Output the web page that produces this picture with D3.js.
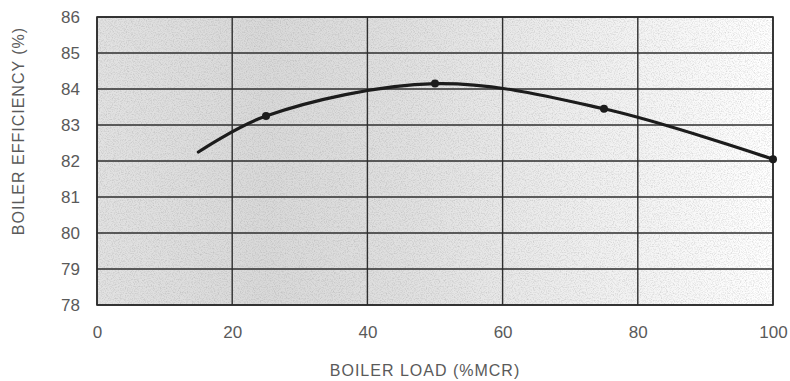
<!DOCTYPE html>
<html>
<head>
<meta charset="utf-8">
<script src="https://cdn.jsdelivr.net/npm/d3@7"></script>
<style>
  body { margin: 0; background: #fff; }
  svg { display: block; }
  text { font-family: "Liberation Sans", Arial, sans-serif; fill: #5a5a5a; }
</style>
</head>
<body>
<svg id="chart"></svg>
<script>
var WIDTH = 790;
var HEIGHT = 381;

// curve
var loadPct = [15, 25, 50, 75, 100];
var efficiency = [82.25, 83.25, 84.15, 83.45, 82.05];
// points that carry a marker
var markerLoad = [25, 50, 75, 100];
var markerEff = [83.25, 84.15, 83.45, 82.05];

var xTicks = [0, 20, 40, 60, 80, 100];
var yTicks = [78, 79, 80, 81, 82, 83, 84, 85, 86];

var margin = { left: 97, right: 17, top: 17, bottom: 76 };
var plotW = WIDTH - margin.left - margin.right;
var plotH = HEIGHT - margin.top - margin.bottom;

var svg = d3.select('#chart')
    .attr('width', WIDTH)
    .attr('height', HEIGHT);

var defs = svg.append('defs');
var grad = defs.append('linearGradient')
    .attr('id', 'bg')
    .attr('x1', '0').attr('x2', '1').attr('y1', '0').attr('y2', '0');
[[0, '#e2e2e2'], [0.25, '#d9d9d9'], [0.45, '#e0e0e0'], [0.7, '#eeeeee'], [1, '#ffffff']]
    .forEach(function(s){
        grad.append('stop').attr('offset', s[0]).attr('stop-color', s[1]);
    });

// scanner grain
var noise = defs.append('filter').attr('id', 'speckle')
    .attr('x', 0).attr('y', 0).attr('width', '100%').attr('height', '100%');
noise.append('feTurbulence')
    .attr('type', 'fractalNoise').attr('baseFrequency', 0.85)
    .attr('numOctaves', 2).attr('seed', 7).attr('result', 'n');
noise.append('feColorMatrix')
    .attr('in', 'n').attr('type', 'matrix')
    .attr('values', '0 0 0 0 0.2  0 0 0 0 0.2  0 0 0 0 0.2  2.2 0 0 0 -0.95');

var xScale = d3.scaleLinear().domain([0, 100]).range([0, plotW]);
var yScale = d3.scaleLinear().domain([78, 86]).range([plotH, 0]);

var g = svg.append('g')
    .attr('transform', 'translate(' + margin.left + ',' + margin.top + ')');

g.append('rect')
    .attr('width', plotW).attr('height', plotH)
    .attr('fill', 'url(#bg)');
g.append('rect')
    .attr('width', plotW).attr('height', plotH)
    .attr('filter', 'url(#speckle)')
    .attr('opacity', 0.28);

// grid
g.append('g')
    .selectAll('line')
    .data(yTicks)
    .enter()
    .append('line')
    .attr('x1', 0).attr('x2', plotW)
    .attr('y1', function(d){ return yScale(d); })
    .attr('y2', function(d){ return yScale(d); })
    .attr('stroke', '#2e2e2e')
    .attr('stroke-width', 1.4);

g.append('g')
    .selectAll('line')
    .data(xTicks)
    .enter()
    .append('line')
    .attr('x1', function(d){ return xScale(d); })
    .attr('x2', function(d){ return xScale(d); })
    .attr('y1', 0).attr('y2', plotH)
    .attr('stroke', '#2e2e2e')
    .attr('stroke-width', 1.4);

g.append('rect')
    .attr('width', plotW).attr('height', plotH)
    .attr('fill', 'none')
    .attr('stroke', '#2a2a2a')
    .attr('stroke-width', 1.6);

// axes (labels only)
var leftAxis = d3.axisLeft(yScale).tickValues(yTicks).tickSize(0).tickPadding(17);
var yAxisG = g.append('g').call(leftAxis);
yAxisG.select('.domain').remove();
yAxisG.selectAll('text')
    .style('font-size', '17px')
    .attr('fill', '#555');

var bottomAxis = d3.axisBottom(xScale).tickValues(xTicks).tickSize(0).tickPadding(21);
var xAxisG = g.append('g')
    .attr('transform', 'translate(0,' + plotH + ')')
    .call(bottomAxis);
xAxisG.select('.domain').remove();
xAxisG.selectAll('text')
    .style('font-size', '17px')
    .attr('fill', function(d){ return d === 100 ? '#b0b0b0' : '#555'; });

// curve
var pts = loadPct.map(function(d, i){ return [d, efficiency[i]]; });
var line = d3.line()
    .x(function(d){ return xScale(d[0]); })
    .y(function(d){ return yScale(d[1]); })
    .curve(d3.curveCatmullRom.alpha(0.5));

g.append('path')
    .datum(pts)
    .attr('d', line)
    .attr('fill', 'none')
    .attr('stroke', '#1c1c1c')
    .attr('stroke-width', 3.2)
    .attr('stroke-linecap', 'round');

g.selectAll('circle.marker')
    .data(markerLoad)
    .enter()
    .append('circle')
    .attr('class', 'marker')
    .attr('cx', function(d){ return xScale(d); })
    .attr('cy', function(d, i){ return yScale(markerEff[i]); })
    .attr('r', 4)
    .attr('fill', '#1c1c1c');

// titles
svg.append('text')
    .attr('x', 425)
    .attr('y', 376)
    .attr('text-anchor', 'middle')
    .style('font-size', '16px')
    .style('letter-spacing', '1px')
    .text('BOILER LOAD (%MCR)');

svg.append('text')
    .attr('transform', 'translate(24,131) rotate(-90)')
    .attr('text-anchor', 'middle')
    .style('font-size', '16px')
    .style('letter-spacing', '1px')
    .text('BOILER EFFICIENCY (%)');
</script>
</body>
</html>
